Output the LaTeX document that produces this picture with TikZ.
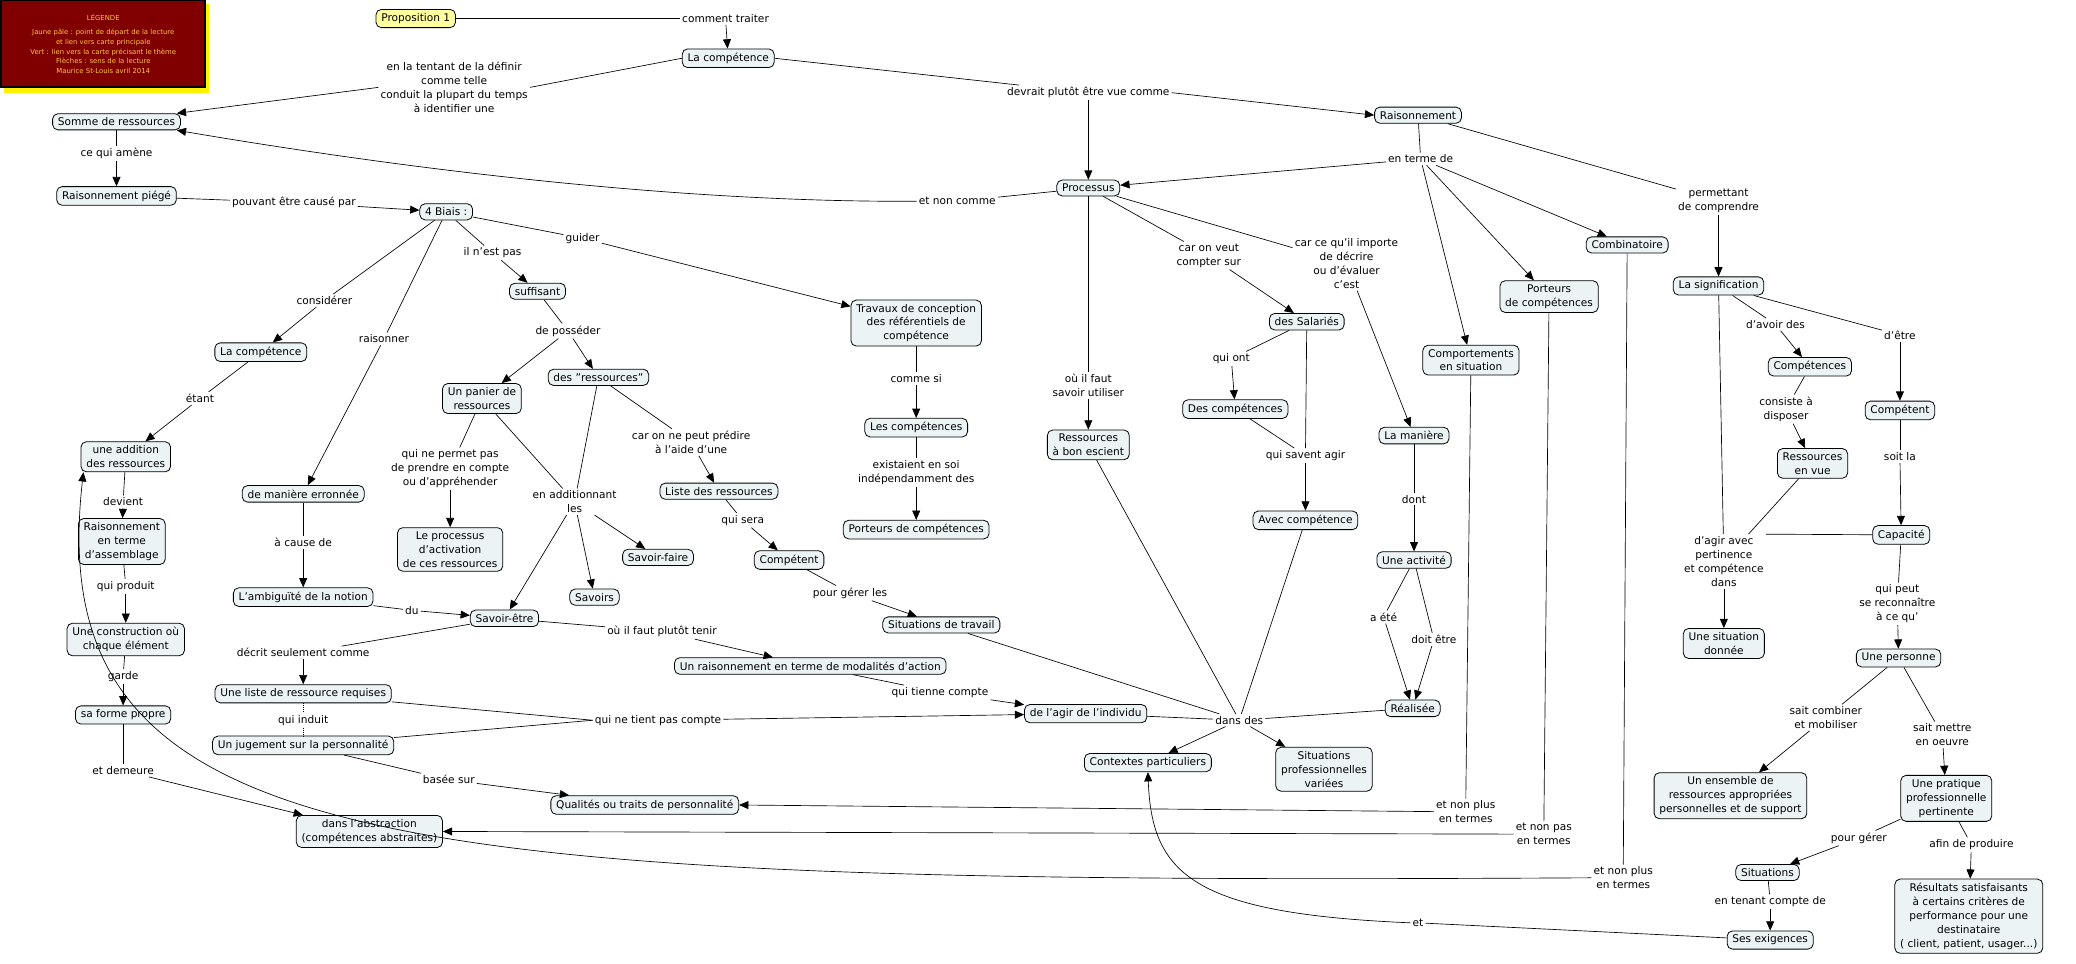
\documentclass[tikz,border=0pt]{standalone}
\usepackage{fontspec}
\setmainfont{DejaVu Sans}
\usetikzlibrary{arrows.meta}
\definecolor{pale}{RGB}{236,243,245}
\definecolor{yellowpale}{RGB}{255,255,160}
\definecolor{maroon}{RGB}{128,0,0}
\definecolor{legendtext}{RGB}{255,196,70}
\begin{document}
\begin{tikzpicture}[x=1pt, y=-1pt,
    concept/.style={rectangle,
        draw=black,
        fill=pale,
        line width=0.6pt,
        rounded corners=4pt,
        align=center,
        inner xsep=4pt,
        inner ysep=3pt,
        font=\fontsize{8}{10.5}\selectfont,
        },
    concept_start/.style={concept,
        fill=yellowpale,
        },
    link/.style={align=center,
        inner sep=1.5pt,
        font=\fontsize{8}{10.5}\selectfont,
        },
    line/.style={line width=0.5pt},
    arrow_link/.style={line width=0.5pt, -{Triangle[length=7pt,width=6pt]}},
    ]
    \useasboundingbox (0,0) rectangle (1568,728);

    % legende
    \fill[yellow] (3,3) rectangle (158,70);
    \node[draw=black, line width=1.5pt, fill=maroon, text=legendtext, align=center,
        minimum width=154pt, minimum height=66pt, inner sep=1pt,
        font=\fontsize{5.2}{7.3}\selectfont] (n_legende) at (78,33)
        {LÉGENDE\\[4pt]Jaune pâle : point de départ de la lecture\\et lien vers carte principale\\Vert : lien vers la carte précisant le thème\\Flèches : sens de la lecture\\Maurice St-Louis avril 2014};

    % concepts
    \node[concept_start] (c_prop) at (314,14) {Proposition 1};
    \node[concept] (c_comp1) at (550,44) {La compétence};
    \node[concept] (c_somme) at (88,92) {Somme de ressources};
    \node[concept] (c_piege) at (88,148) {Raisonnement piégé};
    \node[concept] (c_biais) at (337,160) {4 Biais :};
    \node[concept] (c_raison) at (1071,87) {Raisonnement};
    \node[concept] (c_processus) at (822,142) {Processus};
    \node[concept] (c_combi) at (1229,185) {Combinatoire};
    \node[concept] (c_signif) at (1298,216) {La signification};
    \node[concept] (c_porteurs2) at (1170,224) {Porteurs\\de compétences};
    \node[concept] (c_comport) at (1111,272) {Comportements\\en situation};
    \node[concept] (c_suffisant) at (406,220) {suffisant};
    \node[concept] (c_travaux) at (692,244) {Travaux de conception\\des référentiels de\\compétence};
    \node[concept] (c_salaries) at (987,243) {des Salariés};
    \node[concept] (c_comp2) at (197,266) {La compétence};
    \node[concept] (c_ressstr) at (452,285) {des "ressources"};
    \node[concept] (c_panier) at (364,301) {Un panier de\\ressources};
    \node[concept] (c_competences) at (1367,277) {Compétences};
    \node[concept] (c_competent2) at (1435,310) {Compétent};
    \node[concept] (c_descomp) at (933,309) {Des compétences};
    \node[concept] (c_lescomp) at (692,323) {Les compétences};
    \node[concept] (c_bonescient) at (822,336) {Ressources\\à bon escient};
    \node[concept] (c_maniere) at (1068,329) {La manière};
    \node[concept] (c_addition) at (95,345) {une addition\\des ressources};
    \node[concept] (c_vue) at (1369,350) {Ressources\\en vue};
    \node[concept] (c_erronee) at (229,373) {de manière erronnée};
    \node[concept] (c_liste) at (543,371) {Liste des ressources};
    \node[concept] (c_avec) at (986,393) {Avec compétence};
    \node[concept] (c_porteurs1) at (692,400) {Porteurs de compétences};
    \node[concept] (c_capacite) at (1436,404) {Capacité};
    \node[concept] (c_assemblage) at (92,409) {Raisonnement\\en terme\\d'assemblage};
    \node[concept] (c_activation) at (340,415) {Le processus\\d'activation\\de ces ressources};
    \node[concept] (c_savoirfaire) at (497,421) {Savoir-faire};
    \node[concept] (c_competent1) at (596,423) {Compétent};
    \node[concept] (c_activite) at (1068,423) {Une activité};
    \node[concept] (c_ambig) at (229,451) {L'ambiguïté de la notion};
    \node[concept] (c_savoirs) at (449,451) {Savoirs};
    \node[concept] (c_sitdonnee) at (1302,486) {Une situation\\donnée};
    \node[concept] (c_construction) at (95,483) {Une construction où\\chaque élément};
    \node[concept] (c_savoiretre) at (381,467) {Savoir-être};
    \node[concept] (c_sittravail) at (711,472) {Situations de travail};
    \node[concept] (c_personne) at (1434,497) {Une personne};
    \node[concept] (c_modalites) at (612,503) {Un raisonnement en terme de modalités d'action};
    \node[concept] (c_listereq) at (229,524) {Une liste de ressource requises};
    \node[concept] (c_forme) at (93,540) {sa forme propre};
    \node[concept] (c_agir) at (820,539) {de l'agir de l'individu};
    \node[concept] (c_realisee) at (1067,535) {Réalisée};
    \node[concept] (c_jugement) at (229,563) {Un jugement sur la personnalité};
    \node[concept] (c_contextes) at (867,576) {Contextes particuliers};
    \node[concept] (c_sitpro) at (1000,581) {Situations\\professionnelles\\variées};
    \node[concept] (c_ensemble) at (1307,601) {Un ensemble de\\ressources appropriées\\personnelles et de support};
    \node[concept] (c_pratique) at (1470,603) {Une pratique\\professionnelle\\pertinente};
    \node[concept] (c_qualites) at (487,608) {Qualités ou traits de personnalité};
    \node[concept] (c_abstraction) at (279,628) {dans l'abstraction\\(compétences abstraites)};
    \node[concept] (c_situations) at (1335,659) {Situations};
    \node[concept] (c_resultats) at (1487,692) {Résultats satisfaisants\\à certains critères de\\performance pour une\\destinataire\\( client, patient, usager...)};
    \node[concept] (c_exigences) at (1337,710) {Ses exigences};

    % mots de liaison
    \node[link] (l_traiter) at (548,14) {comment traiter};
    \node[link] (l_definir) at (343,66) {en la tentant de la définir\\comme telle\\conduit la plupart du temps\\à identifier une};
    \node[link] (l_devrait) at (822,70) {devrait plutôt être vue comme};
    \node[link] (l_amene) at (88,116) {ce qui amène};
    \node[link] (l_cause) at (222,153) {pouvant être causé par};
    \node[link] (l_noncomme) at (723,152) {et non comme};
    \node[link] (l_terme) at (1073,120) {en terme de};
    \node[link] (l_comprendre) at (1298,152) {permettant\\de comprendre};
    \node[link] (l_guider) at (440,180) {guider};
    \node[link] (l_nestpas) at (372,191) {il n'est pas};
    \node[link] (l_considerer) at (245,227) {considérer};
    \node[link] (l_raisonner) at (290,256) {raisonner};
    \node[link] (l_compter) at (913,193) {car on veut\\compter sur};
    \node[link] (l_importe) at (1017,199) {car ce qu'il importe\\de décrire\\ou d'évaluer\\c'est};
    \node[link] (l_utiliser) at (822,291) {où il faut\\savoir utiliser};
    \node[link] (l_posseder) at (429,250) {de posséder};
    \node[link] (l_etant) at (151,301) {étant};
    \node[link] (l_commesi) at (692,286) {comme si};
    \node[link] (l_quiont) at (930,271) {qui ont};
    \node[link] (l_agir) at (986,344) {qui savent agir};
    \node[link] (l_predire) at (522,334) {car on ne peut prédire\\à l'aide d'une};
    \node[link] (l_existaient) at (692,357) {existaient en soi\\indépendamment des};
    \node[link] (l_permet) at (340,354) {qui ne permet pas\\de prendre en compte\\ou d'appréhender};
    \node[link] (l_addition) at (434,379) {en additionnant\\les};
    \node[link] (l_dont) at (1068,377) {dont};
    \node[link] (l_avoir) at (1341,245) {d'avoir des};
    \node[link] (l_etre) at (1435,253) {d'être};
    \node[link] (l_disposer) at (1349,309) {consiste à\\disposer};
    \node[link] (l_soitla) at (1435,345) {soit la};
    \node[link] (l_pertinence) at (1302,424) {d'agir avec\\pertinence\\et compétence\\dans};
    \node[link] (l_devient) at (93,379) {devient};
    \node[link] (l_acause) at (229,410) {à cause de};
    \node[link] (l_sera) at (561,393) {qui sera};
    \node[link] (l_produit) at (95,443) {qui produit};
    \node[link] (l_du) at (311,461) {du};
    \node[link] (l_gererles) at (642,448) {pour gérer les};
    \node[link] (l_aete) at (1045,466) {a été};
    \node[link] (l_doitetre) at (1083,483) {doit être};
    \node[link] (l_reconnaitre) at (1433,456) {qui peut\\se reconnaître\\à ce qu'};
    \node[link] (l_tenir) at (500,477) {où il faut plutôt tenir};
    \node[link] (l_decrit) at (229,493) {décrit seulement comme};
    \node[link] (l_garde) at (93,511) {garde};
    \node[link] (l_tienne) at (710,523) {qui tienne compte};
    \node[link] (l_induit) at (229,544) {qui induit};
    \node[link] (l_tientpas) at (497,544) {qui ne tient pas compte};
    \node[link] (l_dansdes) at (936,544) {dans des};
    \node[link] (l_combiner) at (1379,542) {sait combiner\\et mobiliser};
    \node[link] (l_oeuvre) at (1467,555) {sait mettre\\en oeuvre};
    \node[link] (l_basee) at (339,589) {basée sur};
    \node[link] (l_demeure) at (93,582) {et demeure};
    \node[link] (l_nonplus1) at (1107,613) {et non plus\\en termes};
    \node[link] (l_nonpas) at (1166,630) {et non pas\\en termes};
    \node[link] (l_gerer) at (1404,633) {pour gérer};
    \node[link] (l_produire) at (1489,638) {afin de produire};
    \node[link] (l_nonplus2) at (1226,663) {et non plus\\en termes};
    \node[link] (l_tenant) at (1337,681) {en tenant compte de};
    \node[link] (l_et) at (1071,697) {et};

    % liaisons
    \draw[line] (c_prop) -- (l_traiter.west);
    \draw[arrow_link] (l_traiter) -- (c_comp1);
    \draw[line] (c_comp1.west) -- (l_definir.east);
    \draw[arrow_link] (l_definir.west) -- (c_somme.8);
    \draw[line] (c_comp1.east) -- (l_devrait);
    \draw[arrow_link] (l_devrait) -- (c_processus);
    \draw[arrow_link] (l_devrait.east) -- (c_raison.west);
    \draw[line] (c_somme) -- (l_amene);
    \draw[arrow_link] (l_amene) -- (c_piege);
    \draw[line] (c_piege) -- (l_cause);
    \draw[arrow_link] (l_cause) -- (c_biais);
    \draw[line] (c_processus) -- (l_noncomme);
    \draw[arrow_link] (l_noncomme.west) .. controls (520,153) and (320,130) .. (c_somme.-8);
    \draw[line] (c_raison) -- (l_terme);
    \draw[arrow_link] (l_terme) -- (c_processus);
    \draw[arrow_link] (l_terme) -- (c_comport);
    \draw[arrow_link] (l_terme) -- (c_porteurs2);
    \draw[arrow_link] (l_terme) -- (c_combi);
    \draw[line] (c_raison) -- (l_comprendre);
    \draw[arrow_link] (l_comprendre) -- (c_signif);
    \draw[line] (c_biais) -- (l_guider);
    \draw[arrow_link] (l_guider) -- (c_travaux);
    \draw[line] (c_biais) -- (l_nestpas);
    \draw[arrow_link] (l_nestpas) -- (c_suffisant);
    \draw[line] (c_biais) -- (l_considerer);
    \draw[arrow_link] (l_considerer) -- (c_comp2);
    \draw[line] (c_biais) -- (l_raisonner);
    \draw[arrow_link] (l_raisonner) -- (c_erronee);
    \draw[line] (c_processus) -- (l_compter);
    \draw[arrow_link] (l_compter) -- (c_salaries);
    \draw[line] (c_processus) -- (l_importe);
    \draw[arrow_link] (l_importe) -- (c_maniere);
    \draw[line] (c_processus) -- (l_utiliser);
    \draw[arrow_link] (l_utiliser) -- (c_bonescient);
    \draw[line] (c_suffisant) -- (l_posseder);
    \draw[arrow_link] (l_posseder) -- (c_panier);
    \draw[arrow_link] (l_posseder) -- (c_ressstr);
    \draw[line] (c_comp2) -- (l_etant);
    \draw[arrow_link] (l_etant) -- (c_addition);
    \draw[line] (c_travaux) -- (l_commesi);
    \draw[arrow_link] (l_commesi) -- (c_lescomp);
    \draw[line] (c_salaries) -- (l_quiont);
    \draw[arrow_link] (l_quiont) -- (c_descomp);
    \draw[line] (c_descomp) -- (l_agir);
    \draw[line] (c_salaries) -- (l_agir);
    \draw[arrow_link] (l_agir) -- (c_avec);
    \draw[line] (c_ressstr) -- (l_predire);
    \draw[arrow_link] (l_predire) -- (c_liste);
    \draw[line] (c_lescomp) -- (l_existaient);
    \draw[arrow_link] (l_existaient) -- (c_porteurs1);
    \draw[line] (c_panier) -- (l_permet);
    \draw[arrow_link] (l_permet) -- (c_activation);
    \draw[line] (c_panier) -- (l_addition);
    \draw[line] (c_ressstr) -- (l_addition);
    \draw[arrow_link] (l_addition) -- (c_savoiretre);
    \draw[arrow_link] (l_addition) -- (c_savoirs);
    \draw[arrow_link] (l_addition) -- (c_savoirfaire);
    \draw[line] (c_maniere) -- (l_dont);
    \draw[arrow_link] (l_dont) -- (c_activite);
    \draw[line] (c_signif) -- (l_avoir);
    \draw[arrow_link] (l_avoir) -- (c_competences);
    \draw[line] (c_signif) -- (l_etre);
    \draw[arrow_link] (l_etre) -- (c_competent2);
    \draw[line] (c_competences) -- (l_disposer);
    \draw[arrow_link] (l_disposer) -- (c_vue);
    \draw[line] (c_competent2) -- (l_soitla);
    \draw[arrow_link] (l_soitla) -- (c_capacite);
    \draw[line] (c_signif) -- (l_pertinence);
    \draw[line] (c_vue) -- (l_pertinence);
    \draw[line] (c_capacite) -- (l_pertinence.north east);
    \draw[arrow_link] (l_pertinence) -- (c_sitdonnee);
    \draw[line] (c_addition) -- (l_devient);
    \draw[arrow_link] (l_devient) -- (c_assemblage);
    \draw[line] (c_erronee) -- (l_acause);
    \draw[arrow_link] (l_acause) -- (c_ambig);
    \draw[line] (c_liste) -- (l_sera);
    \draw[arrow_link] (l_sera) -- (c_competent1);
    \draw[line] (c_assemblage) -- (l_produit);
    \draw[arrow_link] (l_produit) -- (c_construction);
    \draw[line] (c_ambig) -- (l_du);
    \draw[arrow_link] (l_du) -- (c_savoiretre);
    \draw[line] (c_competent1) -- (l_gererles);
    \draw[arrow_link] (l_gererles) -- (c_sittravail);
    \draw[line] (c_activite) -- (l_aete);
    \draw[arrow_link] (l_aete) -- (c_realisee);
    \draw[line] (c_activite) -- (l_doitetre);
    \draw[arrow_link] (l_doitetre) -- (c_realisee);
    \draw[line] (c_capacite) -- (l_reconnaitre);
    \draw[arrow_link] (l_reconnaitre) -- (c_personne);
    \draw[line] (c_savoiretre) -- (l_tenir);
    \draw[arrow_link] (l_tenir) -- (c_modalites);
    \draw[line] (c_savoiretre) -- (l_decrit);
    \draw[arrow_link] (l_decrit) -- (c_listereq);
    \draw[line] (c_construction) -- (l_garde);
    \draw[arrow_link] (l_garde) -- (c_forme);
    \draw[line] (c_modalites) -- (l_tienne);
    \draw[arrow_link] (l_tienne) -- (c_agir);
    \draw[line, densely dotted] (c_listereq) -- (l_induit);
    \draw[line, densely dotted] (l_induit) -- (c_jugement);
    \draw[line] (c_listereq) -- (l_tientpas.west);
    \draw[line] (c_jugement) -- (l_tientpas.west);
    \draw[arrow_link] (l_tientpas) -- (c_agir);
    \draw[line] (c_agir) -- (l_dansdes);
    \draw[line] (c_sittravail) -- (l_dansdes);
    \draw[line] (c_bonescient) -- (l_dansdes);
    \draw[line] (c_avec) -- (l_dansdes);
    \draw[line] (c_realisee) -- (l_dansdes);
    \draw[arrow_link] (l_dansdes) -- (c_contextes);
    \draw[arrow_link] (l_dansdes) -- (c_sitpro);
    \draw[line] (c_personne) -- (l_combiner);
    \draw[arrow_link] (l_combiner) -- (c_ensemble);
    \draw[line] (c_personne) -- (l_oeuvre);
    \draw[arrow_link] (l_oeuvre) -- (c_pratique);
    \draw[line] (c_jugement) -- (l_basee);
    \draw[arrow_link] (l_basee) -- (c_qualites);
    \draw[line] (c_forme) -- (l_demeure);
    \draw[arrow_link] (l_demeure) -- (c_abstraction);
    \draw[line] (c_comport) -- (l_nonplus1);
    \draw[arrow_link] (l_nonplus1.west) -- (c_qualites.east);
    \draw[line] (c_porteurs2) -- (l_nonpas);
    \draw[arrow_link] (l_nonpas.west) -- (c_abstraction.east);
    \draw[line] (c_pratique) -- (l_gerer);
    \draw[arrow_link] (l_gerer) -- (c_situations);
    \draw[line] (c_pratique) -- (l_produire);
    \draw[arrow_link] (l_produire) -- (c_resultats);
    \draw[line] (c_combi) -- (l_nonplus2);
    \draw[arrow_link] (l_nonplus2.west) .. controls (300,668) and (30,650) .. (c_addition.200);
    \draw[line] (c_situations) -- (l_tenant);
    \draw[arrow_link] (l_tenant) -- (c_exigences);
    \draw[line] (c_exigences) -- (l_et);
    \draw[arrow_link] (l_et.west) .. controls (900,690) and (870,660) .. (c_contextes.south);

\end{tikzpicture}
\end{document}
